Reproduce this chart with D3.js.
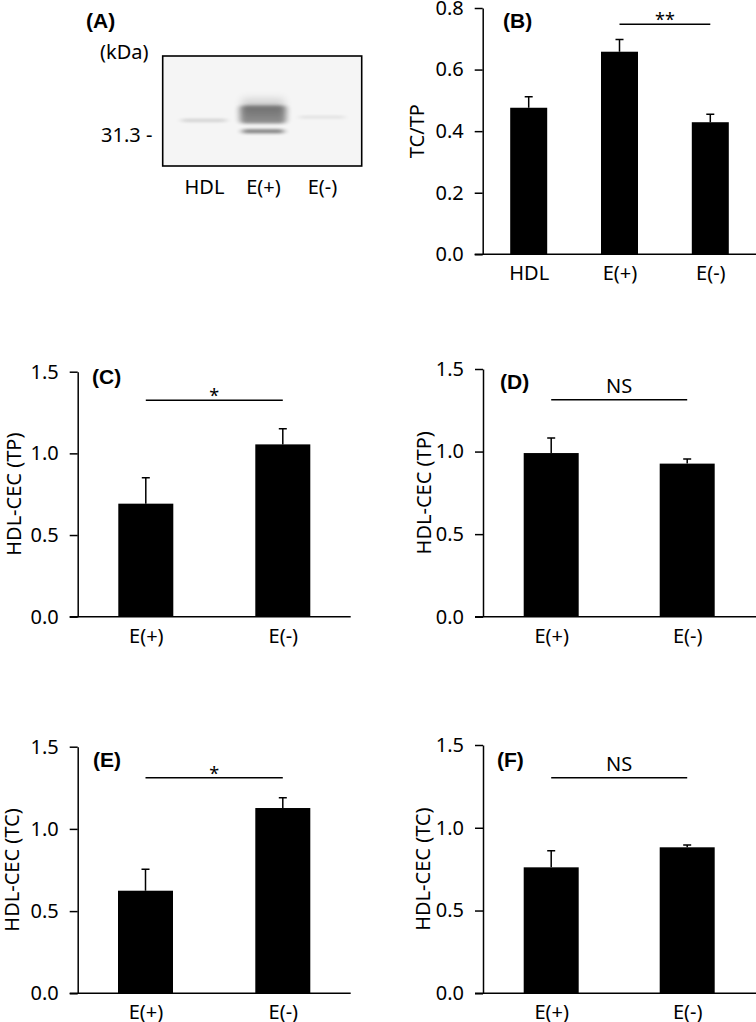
<!DOCTYPE html>
<html>
<head>
<meta charset="utf-8">
<script src="https://cdn.jsdelivr.net/npm/d3@7"></script>
<style>
  body { margin: 0; background: #fff; }
  svg { display: block; }
  .tick text, .lbl { font-family: "Noto Sans", sans-serif; font-size: 20px; fill: #000; }
  .panel { font-family: "Liberation Sans", Arial, sans-serif; font-weight: bold; font-size: 21px; }
</style>
</head>
<body>
<svg id="fig" width="756" height="1022"></svg>
<script>
// blot lanes and band estimates (kDa, relative darkness)
var lanes = ["HDL", "E(+)", "E(-)"];
var bandKda = [33.6, 34.5, 31.9, 34.1];
var bandLane = ["HDL", "E(+)", "E(+)", "E(-)"];
var bandDark = [0.16, 0.42, 0.48, 0.1];
var bandThick = [1.4, 9, 2, 1.2];

// (B) TC/TP
var tcTpMean = [0.476, 0.658, 0.429];
var tcTpSE = [0.036, 0.040, 0.026];
var tcTpTicks = [0, 0.2, 0.4, 0.6, 0.8];

// (C)-(F) HDL-CEC
var groups = ["E(+)", "E(-)"];
var cecTpMeanC = [0.692, 1.055];
var cecTpSEC = [0.159, 0.096];
var cecTpMeanD = [0.991, 0.927];
var cecTpSED = [0.091, 0.028];
var cecTcMeanE = [0.624, 1.127];
var cecTcSEE = [0.130, 0.063];
var cecTcMeanF = [0.761, 0.882];
var cecTcSEF = [0.100, 0.014];
var cecTicks = [0, 0.5, 1.0, 1.5];

var svg = d3.select("#fig");
var fmt = d3.format(".1f");

// ---------- panel A: western blot ----------
(function() {
  var box = {x0: 162.7, x1: 361.7, y0: 56, y1: 166};
  var g = svg.append("g");
  var defs = svg.append("defs");
  defs.append("filter").attr("id", "blur").attr("x", "-50%").attr("y", "-300%")
    .attr("width", "200%").attr("height", "700%")
    .append("feGaussianBlur").attr("stdDeviation", "3 1.8");
  defs.append("filter").attr("id", "blur2").attr("x", "-50%").attr("y", "-100%")
    .attr("width", "200%").attr("height", "300%")
    .append("feGaussianBlur").attr("stdDeviation", "4 5");
  var clip = defs.append("clipPath").attr("id", "blotclip");
  clip.append("rect").attr("x", box.x0).attr("y", box.y0)
    .attr("width", box.x1 - box.x0).attr("height", box.y1 - box.y0);

  var lane = d3.scalePoint().domain(lanes).range([204, 322]);
  var kda = d3.scaleLinear().domain([31.3, 36]).range([135, 105]);

  var inner = g.append("g").attr("clip-path", "url(#blotclip)");
  inner.append("rect").attr("x", box.x0).attr("y", box.y0)
    .attr("width", box.x1 - box.x0).attr("height", box.y1 - box.y0)
    .attr("fill", "#f5f5f5");

  // haze above the strong E(+) band
  inner.append("rect")
    .attr("x", lane("E(+)") - 21).attr("y", kda(36.8))
    .attr("width", 42).attr("height", kda(34.4) - kda(36.8))
    .attr("fill", "#000").attr("opacity", 0.18).attr("filter", "url(#blur2)");

  bandKda.forEach(function(k, i) {
    var w = i === 2 ? 42 : 46;
    var h = bandThick[i] * 2;
    inner.append("rect")
      .attr("x", lane(bandLane[i]) - w / 2)
      .attr("y", kda(k) - h / 2)
      .attr("width", w).attr("height", h)
      .attr("rx", 4)
      .attr("fill", "#000").attr("opacity", bandDark[i])
      .attr("filter", "url(#blur)");
  });

  g.append("rect").attr("x", box.x0).attr("y", box.y0)
    .attr("width", box.x1 - box.x0).attr("height", box.y1 - box.y0)
    .attr("fill", "none").attr("stroke", "#000").attr("stroke-width", 1.6);

  var ax = g.append("g").attr("transform", "translate(0," + 168 + ")")
    .call(d3.axisBottom(lane).tickSize(0).tickPadding(12));
  ax.select(".domain").remove();

  g.append("text").attr("class", "lbl").attr("x", 100).attr("y", 59).text("(kDa)");
  g.append("text").attr("class", "lbl").attr("x", 101).attr("y", kda(31.3) + 7).text("31.3 -");
  g.append("text").attr("class", "panel").attr("x", 86).attr("y", 28).text("(A)");
})();

// ---------- bar panels ----------
function barPanel(o) {
  var g = svg.append("g");
  var y = d3.scaleLinear().domain([0, o.max]).range([o.yBottom, o.yTop]);
  var x = d3.scalePoint().domain(o.cats).range(o.centers);

  var yAxis = g.append("g").attr("transform", "translate(" + o.yx + ",0)")
    .call(d3.axisLeft(y).tickValues(o.ticks).tickFormat(fmt)
      .tickSize(8).tickSizeOuter(0).tickPadding(11));
  yAxis.selectAll("line, path").attr("stroke", "#000").attr("stroke-width", 1.5);

  g.append("path")
    .attr("d", d3.line()([[o.yx - 8, y(0)], [o.xEnd, y(0)]]))
    .attr("stroke", "#000").attr("stroke-width", 1.5);

  var xAxis = g.append("g").attr("transform", "translate(0," + y(0) + ")")
    .call(d3.axisBottom(x).tickSize(0).tickPadding(12));
  xAxis.select(".domain").remove();

  // error bars (upper only)
  g.selectAll(".err").data(o.mean).enter().append("path")
    .attr("d", function(d, i) {
      var cx = x(o.cats[i]), top = y(d + o.se[i]);
      return "M" + cx + "," + y(d) + "V" + top + "M" + (cx - 4) + "," + top + "H" + (cx + 4);
    })
    .attr("stroke", "#000").attr("stroke-width", 1.5).attr("fill", "none");

  g.selectAll(".bar").data(o.mean).enter().append("rect")
    .attr("x", function(d, i) { return x(o.cats[i]) - o.bw / 2; })
    .attr("y", function(d) { return y(d); })
    .attr("width", o.bw)
    .attr("height", function(d) { return y(0) - y(d); })
    .attr("fill", "#000");

  // significance
  var sy = y(o.sig.at);
  g.append("path")
    .attr("d", d3.line()([[x(o.sig.from), sy], [x(o.sig.to), sy]]))
    .attr("stroke", "#000").attr("stroke-width", 1.4);
  g.append("text").attr("class", "lbl")
    .attr("x", (x(o.sig.from) + x(o.sig.to)) / 2)
    .attr("y", o.sig.text === "NS" ? sy - 6.5 : sy + 2)
    .attr("text-anchor", "middle")
    .style("font-size", o.sig.text === "NS" ? null : "18px")
    .text(o.sig.text);

  g.append("text").attr("class", "lbl")
    .attr("transform", "translate(" + o.labelX + "," + (o.yTop + o.yBottom) / 2 + ") rotate(-90)")
    .attr("text-anchor", "middle").attr("dy", "0.35em").text(o.label);

  g.append("text").attr("class", "panel").attr("x", o.tagX).attr("y", o.tagY).text(o.tag);
}

barPanel({cats: lanes, mean: tcTpMean, se: tcTpSE, max: 0.8, ticks: tcTpTicks,
  yx: 482.7, yTop: 8, yBottom: 254.3, xEnd: 756, centers: [528.7, 710.3], bw: 37,
  sig: {from: "E(+)", to: "E(-)", at: 0.747, text: "**"},
  label: "TC/TP", labelX: 417, tag: "(B)", tagX: 503, tagY: 27.5});

barPanel({cats: groups, mean: cecTpMeanC, se: cecTpSEC, max: 1.5, ticks: cecTicks,
  yx: 77.7, yTop: 371.7, yBottom: 616.7, xEnd: 350.7, centers: [145.8, 282.8], bw: 55,
  sig: {from: "E(+)", to: "E(-)", at: 1.325, text: "*"},
  label: "HDL-CEC (TP)", labelX: 14, tag: "(C)", tagX: 92, tagY: 384});

barPanel({cats: groups, mean: cecTpMeanD, se: cecTpSED, max: 1.5, ticks: cecTicks,
  yx: 483, yTop: 369, yBottom: 616.7, xEnd: 756, centers: [551.2, 687.2], bw: 55,
  sig: {from: "E(+)", to: "E(-)", at: 1.314, text: "NS"},
  label: "HDL-CEC (TP)", labelX: 424, tag: "(D)", tagX: 500, tagY: 388.5});

barPanel({cats: groups, mean: cecTcMeanE, se: cecTcSEE, max: 1.5, ticks: cecTicks,
  yx: 77.7, yTop: 746.7, yBottom: 993.3, xEnd: 350.7, centers: [145.5, 282.8], bw: 55,
  sig: {from: "E(+)", to: "E(-)", at: 1.311, text: "*"},
  label: "HDL-CEC (TC)", labelX: 12, tag: "(E)", tagX: 93, tagY: 767});

barPanel({cats: groups, mean: cecTcMeanF, se: cecTcSEF, max: 1.5, ticks: cecTicks,
  yx: 483, yTop: 745, yBottom: 993.3, xEnd: 756, centers: [551.2, 687.2], bw: 55,
  sig: {from: "E(+)", to: "E(-)", at: 1.302, text: "NS"},
  label: "HDL-CEC (TC)", labelX: 423, tag: "(F)", tagX: 497, tagY: 767});
</script>
</body>
</html>
